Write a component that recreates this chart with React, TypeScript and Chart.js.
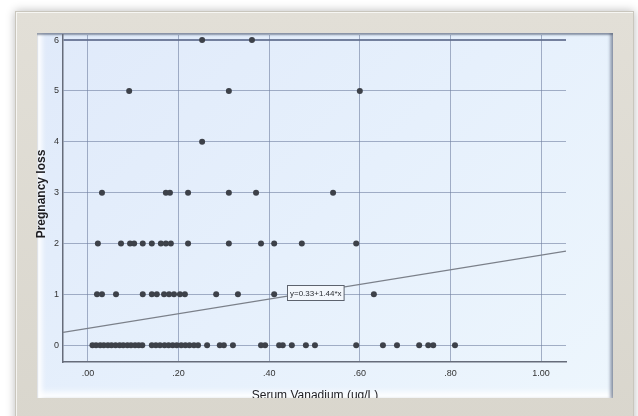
import React, { useEffect, useRef } from "react";
import { Chart, registerables } from "chart.js";

Chart.register(...registerables);

// ---- data ----
const xTickValues = [0, 0.2, 0.4, 0.6, 0.8, 1.0];
const xTickLabels = [".00", ".20", ".40", ".60", ".80", "1.00"];
const yTickValues = [0, 1, 2, 3, 4, 5, 6];

const loss0X = [
  0.01, 0.018, 0.027, 0.035, 0.044, 0.052, 0.061, 0.07, 0.078, 0.087, 0.095, 0.104, 0.112, 0.12,
  0.141, 0.15, 0.159, 0.169, 0.178, 0.187, 0.196, 0.206, 0.215, 0.224, 0.234, 0.243,
  0.263, 0.291, 0.3, 0.32, 0.382, 0.391, 0.422, 0.43, 0.45, 0.481, 0.501,
  0.592, 0.651, 0.682, 0.731, 0.751, 0.762, 0.81,
];
const loss1X = [0.02, 0.031, 0.062, 0.121, 0.141, 0.152, 0.168, 0.179, 0.19, 0.203, 0.214, 0.283, 0.331, 0.411, 0.631];
const loss2X = [0.022, 0.073, 0.093, 0.102, 0.121, 0.141, 0.161, 0.172, 0.183, 0.221, 0.311, 0.382, 0.411, 0.472, 0.592];
const loss3X = [0.031, 0.172, 0.181, 0.221, 0.311, 0.371, 0.541];
const loss4X = [0.252];
const loss5X = [0.091, 0.311, 0.6];
const loss6X = [0.252, 0.362];

const fitIntercept = 0.33;
const fitSlope = 1.44;
const fitLabel = "y=0.33+1.44*x";
const fitLabelPos = { x: 0.502, y: 1.04 };

const xTitle = "Serum Vanadium (ug/L)";
const yTitle = "Pregnancy loss";

const X_MIN = -0.055;
const X_MAX = 1.055;
const Y_MIN = -0.33;
const Y_MAX = 6.1;

const FONT = "'Liberation Sans', Arial, sans-serif";

export default function App() {
  const canvasRef = useRef<HTMLCanvasElement | null>(null);

  useEffect(() => {
    const canvas = canvasRef.current;
    if (!canvas) return;

    const levels = [loss0X, loss1X, loss2X, loss3X, loss4X, loss5X, loss6X];
    const points: { x: number; y: number }[] = [];
    levels.forEach((arr, lvl) => arr.forEach((x) => points.push({ x, y: lvl })));

    const fitLine = [
      { x: X_MIN, y: fitIntercept + fitSlope * X_MIN },
      { x: X_MAX, y: fitIntercept + fitSlope * X_MAX },
    ];

    const overlay = {
      id: "overlay",
      afterDatasetsDraw(chart: any) {
        const ctx = chart.ctx as CanvasRenderingContext2D;
        const xs = chart.scales.x;
        const ys = chart.scales.y;
        // equation label box
        const cx = xs.getPixelForValue(fitLabelPos.x);
        const cy = ys.getPixelForValue(fitLabelPos.y);
        ctx.save();
        ctx.font = `8px ${FONT}`;
        const tw = ctx.measureText(fitLabel).width;
        const bw = tw + 5;
        const bh = 15;
        const bx = Math.round(cx - bw / 2) + 0.5;
        const by = Math.round(cy - bh / 2) + 0.5;
        ctx.fillStyle = "#f3f7fc";
        ctx.fillRect(bx, by, bw, bh);
        ctx.strokeStyle = "#5d636e";
        ctx.lineWidth = 1;
        ctx.strokeRect(bx, by, bw, bh);
        ctx.fillStyle = "#2a2d33";
        ctx.textAlign = "center";
        ctx.textBaseline = "middle";
        ctx.fillText(fitLabel, bx + bw / 2, by + bh / 2 + 0.5);
        ctx.restore();

        // axis titles
        ctx.save();
        ctx.fillStyle = "#1e1e22";
        ctx.font = `12px ${FONT}`;
        ctx.textAlign = "center";
        ctx.textBaseline = "alphabetic";
        ctx.fillText(xTitle, 315, 399);
        ctx.translate(42, 194);
        ctx.rotate(-Math.PI / 2);
        ctx.font = `bold 12px ${FONT}`;
        ctx.textBaseline = "middle";
        ctx.fillText(yTitle, 0, 0);
        ctx.restore();
      },
    };

    const gridColor = "rgba(112,126,160,0.6)";
    const axisColor = "#666c7a";

    const chart = new Chart(canvas, {
      type: "scatter",
      data: {
        datasets: [
          {
            type: "line",
            data: fitLine,
            borderColor: "#7b808a",
            borderWidth: 1.2,
            pointRadius: 0,
            fill: false,
            order: 2,
          } as any,
          {
            data: points,
            backgroundColor: "#3d4149",
            borderWidth: 0,
            pointRadius: 3,
            order: 1,
          },
        ],
      },
      options: {
        animation: false,
        responsive: false,
        maintainAspectRatio: false,
        layout: { padding: { left: 37, right: 72, top: 35, bottom: 18 } },
        plugins: { legend: { display: false }, tooltip: { enabled: false } },
        scales: {
          x: {
            type: "linear",
            min: X_MIN,
            max: X_MAX,
            afterFit: (s: any) => {
              s.height = 36;
            },
            afterBuildTicks: (s: any) => {
              s.ticks = xTickValues.map((v) => ({ value: v }));
            },
            ticks: {
              autoSkip: false,
              maxRotation: 0,
              padding: 6,
              color: "#333333",
              font: { family: FONT, size: 9 },
              callback: (v: any) => {
                const i = xTickValues.findIndex((t) => Math.abs(t - Number(v)) < 1e-6);
                return i >= 0 ? xTickLabels[i] : "";
              },
            },
            grid: { color: gridColor, lineWidth: 1, drawTicks: false },
            border: { display: true, color: axisColor, width: 1.5 },
          },
          y: {
            type: "linear",
            min: Y_MIN,
            max: Y_MAX,
            afterFit: (s: any) => {
              s.width = 26;
            },
            afterBuildTicks: (s: any) => {
              s.ticks = yTickValues.map((v) => ({ value: v }));
            },
            ticks: {
              autoSkip: false,
              padding: 4,
              color: "#333333",
              font: { family: FONT, size: 9 },
              callback: (v: any) => String(v),
            },
            grid: {
              color: (c: any) => (c.tick && c.tick.value === 6 ? "rgba(95,108,140,0.85)" : gridColor),
              lineWidth: (c: any) => (c.tick && c.tick.value === 6 ? 2 : 1),
              drawTicks: false,
            },
            border: { display: true, color: axisColor, width: 1.5 },
          },
        },
      },
      plugins: [overlay],
    });

    return () => chart.destroy();
  }, []);

  return (
    <div
      style={{
        position: "fixed",
        left: 0,
        top: 0,
        width: 638,
        height: 416,
        background: "#ffffff",
        overflow: "hidden",
      }}
    >
      <div
        style={{
          position: "absolute",
          left: 15,
          top: 11,
          width: 619,
          height: 420,
          background: "linear-gradient(to bottom, #e2dfd7, #d9d6cd)",
          border: "1px solid #c9c6bd",
          boxShadow: "0 0 9px rgba(0,0,0,0.28), inset 1px 1px 0 rgba(255,255,255,0.7)",
          boxSizing: "border-box",
        }}
      />
      <div
        style={{
          position: "absolute",
          left: 37,
          top: 33,
          width: 576,
          height: 365,
          background: "linear-gradient(135deg, #e0eafa 0%, #e6f0fc 50%, #edf6fd 100%)",
          boxShadow:
            "inset 0 2px 2px rgba(60,72,96,0.55), inset 7px 0 5px -2px rgba(255,255,255,0.95), inset -4px 0 3px -1px rgba(90,100,125,0.55), inset 0 -9px 6px -3px rgba(255,255,255,0.95)",
        }}
      />
      <canvas
        ref={canvasRef}
        width={638}
        height={416}
        style={{
          position: "absolute",
          left: 0,
          top: 0,
          width: 638,
          height: 416,
          display: "block",
          clipPath: "inset(33px 25px 18px 35px)",
        }}
      />
    </div>
  );
}
